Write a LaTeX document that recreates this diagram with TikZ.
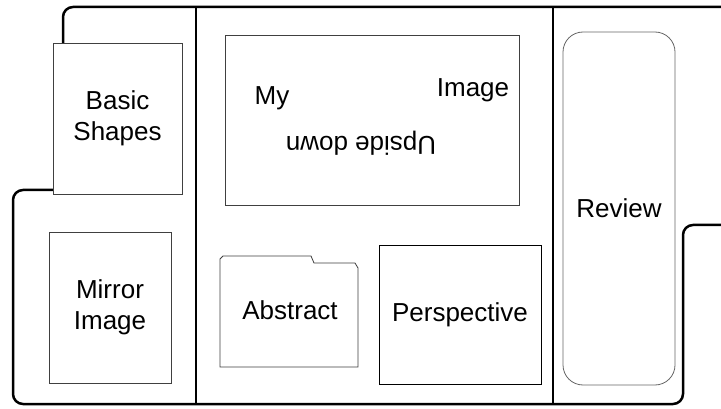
\documentclass[tikz,border=0pt]{standalone}
\usepackage{fontspec}
\setmainfont{Liberation Sans}
\begin{document}
\begin{tikzpicture}
      [x=1pt,y=-1pt,
       every node/.style={font=\fontsize{26}{31}\selectfont,align=center},
       card/.style={draw=black!75,line width=0.8pt,fill=white,inner sep=0pt},
       wall/.style={line width=2.5pt,rounded corners=10pt}]
      \useasboundingbox [fill=white] (0,0) rectangle (721,409);

      % outline and dividers
      \draw [wall] (721,7) -| (63,120) -- (63,190) -- (13,190) -- (13,404) -- (683,404) -- (683,225) -- (721,225);
      \draw [line width=2.5pt] (196,7) -- (196,404);
      \draw [line width=2.5pt] (553,7) -- (553,404);

      \node [card,minimum width=129pt,minimum height=151pt] (shapes) at (117.5,118.5) {Basic\\Shapes};
      \node [card,minimum width=122pt,minimum height=151pt] (mirror) at (110,307.5) {Mirror\\Image};
      \node [card,minimum width=294pt,minimum height=170pt] (upside) at (372,120) {};
      \node (my) at (272,98) {My};
      \node (image) at (473,90) {Image};
      \node [rotate=180] (down) at (361,143) {Upside down};

      \draw [card] (220,367) -- (220,259) -- (223,256) -- (311,256) -- (314,263) -- (355,263) -- (358,268) -- (358,367) -- cycle;
      \node (abstract) at (290,310) {Abstract};
      \node [card,draw=black,minimum width=162pt,minimum height=139pt] (persp) at (460,314.5) {Perspective};
      \node [card,draw=black!60,rounded corners=20pt,minimum width=112pt,minimum height=353pt] (review) at (619,208.5) {Review};
    \end{tikzpicture}
\end{document}
